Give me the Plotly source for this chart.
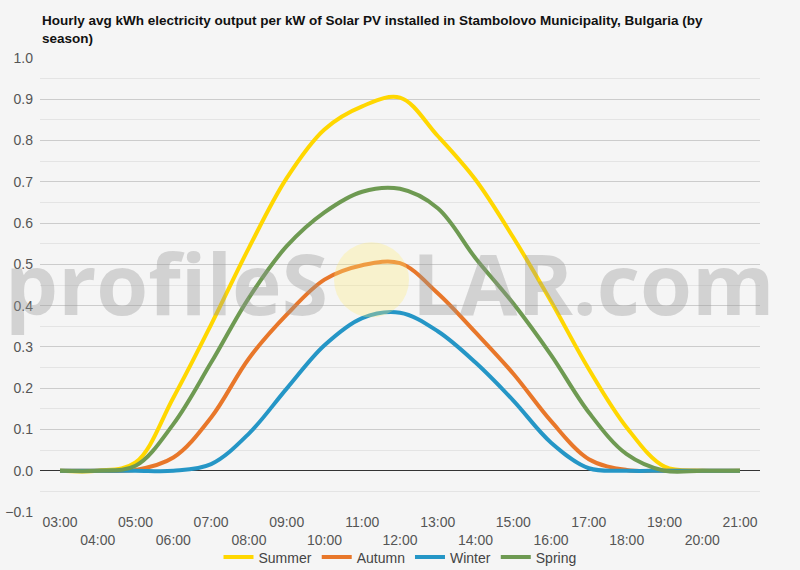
import plotly.graph_objects as go

hours = list(range(3, 22))
hour_labels = [f"{h:02d}:00" for h in hours]

summer = [0, 0, 0.02, 0.177, 0.354, 0.54, 0.709, 0.827, 0.883, 0.904, 0.811, 0.705, 0.565, 0.41, 0.246, 0.105, 0.01, 0, 0]
autumn = [0, 0, 0.002, 0.032, 0.129, 0.272, 0.378, 0.463, 0.498, 0.503, 0.43, 0.335, 0.235, 0.12, 0.028, 0.002, 0, 0, 0]
winter = [0, 0, 0, 0, 0.016, 0.09, 0.199, 0.304, 0.37, 0.383, 0.338, 0.262, 0.17, 0.068, 0.006, 0, 0, 0, 0]
spring = [0, 0, 0.012, 0.113, 0.262, 0.419, 0.544, 0.626, 0.676, 0.683, 0.636, 0.515, 0.405, 0.28, 0.141, 0.04, 0, 0, 0]

series = [
    ("Summer", summer, "#ffd700"),
    ("Autumn", autumn, "#e8772a"),
    ("Winter", winter, "#2596c6"),
    ("Spring", spring, "#6e9a52"),
]

tick_text = [lab if i % 2 == 0 else "<br>" + lab for i, lab in enumerate(hour_labels)]

fig = go.Figure()
for name, vals, col in series:
    fig.add_trace(go.Scatter(
        x=hours, y=vals, name=name, mode="lines",
        line=dict(color=col, width=4, shape="spline", smoothing=1.0),
        hoverinfo="skip",
    ))

FONT = "Liberation Sans, Arial, sans-serif"

fig.update_layout(
    width=800, height=570,
    paper_bgcolor="#f5f5f5", plot_bgcolor="#f5f5f5",
    margin=dict(l=40, r=40, t=58, b=58, autoexpand=False),
    font=dict(family=FONT, size=14, color="#555555"),
    showlegend=True,
    legend=dict(
        orientation="h", xanchor="center", x=0.5,
        yref="container", yanchor="top", y=0.05,
        font=dict(family=FONT, size=14, color="#444444"),
        bgcolor="rgba(0,0,0,0)",
    ),
    xaxis=dict(
        range=[2.47, 21.53], tickmode="array", tickvals=hours, ticktext=tick_text,
        showgrid=False, zeroline=False, showline=False, ticks="", automargin=False,
        tickfont=dict(family=FONT, size=14, color="#555555"),
    ),
    yaxis=dict(
        range=[-0.1, 1.0], dtick=0.1, tick0=0, tickformat=".1f",
        showgrid=True, gridcolor="#cccccc", gridwidth=1,
        minor=dict(dtick=0.05, tick0=0, showgrid=True, gridcolor="#e4e4e4", gridwidth=1),
        zeroline=True, zerolinecolor="#333333", zerolinewidth=1,
        showline=False, ticks="", automargin=False, ticklabelstandoff=6,
        tickfont=dict(family=FONT, size=14, color="#555555"),
    ),
)

# title
fig.add_annotation(
    text="<b>Hourly avg kWh electricity output per kW of Solar PV installed in Stambolovo Municipality, Bulgaria (by<br>season)</b>",
    xref="paper", yref="paper", x=0, y=(511.7 - 11) / 454, xanchor="left", yanchor="top",
    align="left", showarrow=False, font=dict(family=FONT, size=13.5, color="#111111"),
)

# watermark
fig.add_shape(type="circle", xref="paper", yref="paper",
              x0=(334 - 40) / 720, x1=(409 - 40) / 720,
              y0=(511.7 - 317) / 454, y1=(511.7 - 242) / 454,
              fillcolor="rgba(255,236,120,0.32)", line=dict(width=0), layer="above")
wm_font = dict(family="Open Sans", size=84, color="rgba(150,150,150,0.36)")
wm_y = (511.7 - 282) / 454
fig.add_annotation(text="<b>profileS</b>", xref="paper", yref="paper",
                   x=(330 - 40) / 720, y=wm_y, xanchor="right", yanchor="middle",
                   showarrow=False, font=wm_font)
fig.add_annotation(text="<b>LAR.com</b>", xref="paper", yref="paper",
                   x=(410 - 40) / 720, y=wm_y, xanchor="left", yanchor="middle",
                   showarrow=False, font=wm_font)

fig.write_html("out.html")
